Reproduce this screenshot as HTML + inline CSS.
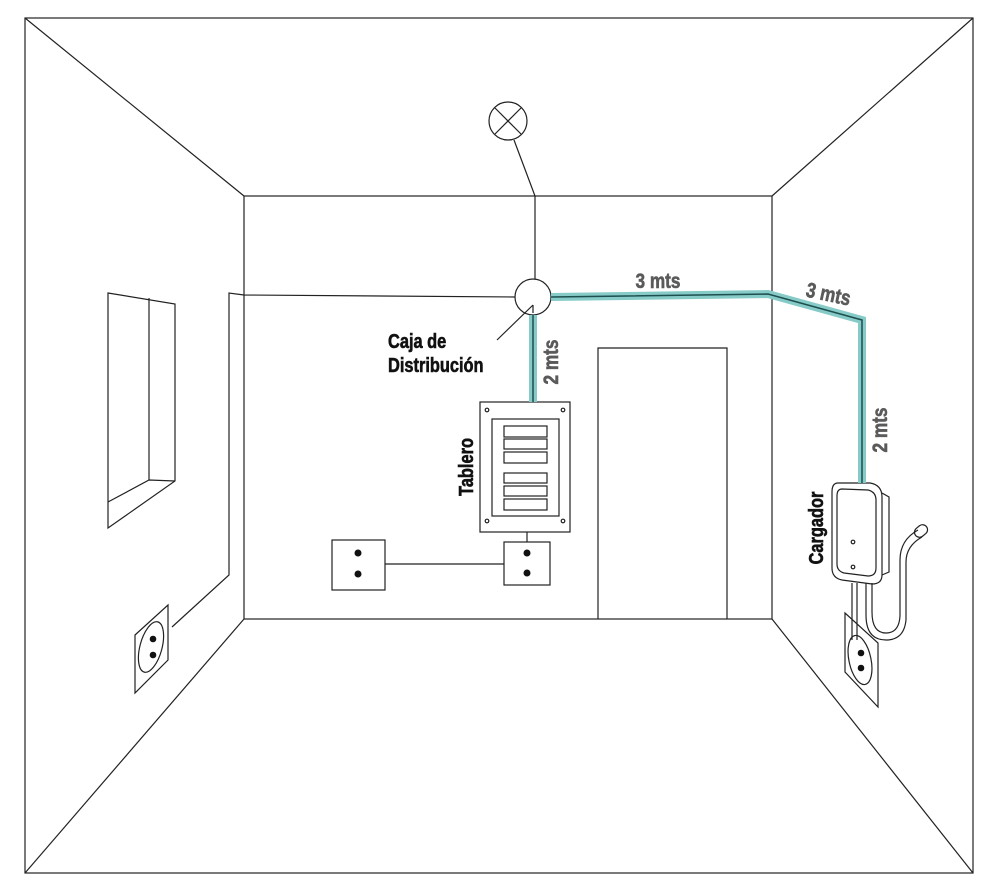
<!DOCTYPE html>
<html><head><meta charset="utf-8"><style>
html,body{margin:0;padding:0;background:#fff}
svg{display:block}
text{font-family:"Liberation Sans",sans-serif;font-weight:bold}
</style></head><body>
<svg width="1000" height="889" viewBox="0 0 1000 889" xmlns="http://www.w3.org/2000/svg">
<g fill="none" stroke="#222" stroke-width="1.2">
<rect x="25" y="18" width="948" height="855"/>
<rect x="244" y="196" width="528" height="423"/>
<line x1="25" y1="18" x2="244" y2="196"/>
<line x1="973" y1="18" x2="772" y2="196"/>
<line x1="25" y1="873" x2="244" y2="619"/>
<line x1="973" y1="873" x2="772" y2="619"/>
<!-- lamp -->
<ellipse cx="508" cy="121" rx="19" ry="19"/>
<line x1="495" y1="108" x2="521" y2="134"/>
<line x1="521" y1="108" x2="495" y2="134"/>
<polyline points="514,140 535,196 535,279"/>
<!-- dist box -->
<circle cx="533" cy="297" r="18"/>
<line x1="497" y1="340" x2="533" y2="305"/>
<line x1="533" y1="305" x2="533" y2="313"/>
<!-- wire left -->
<polyline points="515,297 244,295 229,293 229,575 172,627"/>
<!-- window -->
<polygon points="108,293 175,304 175,481 108,528"/>
<line x1="149" y1="298" x2="149" y2="480"/>
<polyline points="108,502 149,480 175,481"/>
<!-- left socket -->
<polygon points="135,635 168,605 168,660 135,693"/>
<ellipse cx="151" cy="647" rx="11" ry="26" transform="rotate(15 151 647)"/>
<!-- door -->
<polyline points="598,619 598,348 727,348 727,619"/>
<!-- tablero -->
<rect x="480" y="402" width="90" height="130"/>
<rect x="492" y="419" width="67" height="97"/>
<rect x="504" y="426" width="43" height="11"/>
<rect x="504" y="439" width="43" height="10"/>
<rect x="504" y="452" width="43" height="11"/>
<rect x="504" y="473" width="43" height="10"/>
<rect x="504" y="486" width="43" height="10"/>
<rect x="504" y="499" width="43" height="11"/>
<circle cx="487" cy="410" r="1.8"/><circle cx="563" cy="410" r="1.8"/>
<circle cx="487" cy="521" r="1.8"/><circle cx="563" cy="521" r="1.8"/>
<line x1="527" y1="532" x2="527" y2="542"/>
<rect x="504" y="542" width="46" height="43"/>
<rect x="332" y="540" width="53" height="50"/>
<line x1="385" y1="564" x2="504" y2="564"/>
<!-- right socket -->
<polygon points="845,613 878,643 878,707 845,672"/>
<ellipse cx="860" cy="660" rx="11" ry="25" transform="rotate(-12 860 660)"/>
<!-- charger -->
<path d="M852,583 L852,640 M857,583 L857,640"/>
<path d="M866,583 L866,615 Q866,640 886,640 Q904,640 906,620 L906,570 M872,583 L872,612 Q872,633 886,633 Q899,633 900,616 L900,570"/>
<path d="M882,493 L889,497 L889,572 L882,575"/>
<path d="M838,483 L870,483 Q882,485 882,497 L882,575 Q882,584 872,584 L842,580 Q832,578 832,568 L832,492 Q832,483 838,483 Z"/>
<path d="M842,489 L868,490 Q876,492 876,500 L876,568 Q876,576 868,576 L844,573 Q837,571 837,564 L837,496 Q837,489 842,489 Z"/>
<path d="M900,570 L900,560 Q900,540 918,530 M906,570 L906,562 Q906,546 922,537"/>
<rect x="914" y="526" width="14" height="10" rx="5" transform="rotate(-40 921 531)"/>
<circle cx="853" cy="542" r="1.8"/><circle cx="853" cy="567" r="1.8"/>
</g>
<g fill="#111">
<circle cx="153" cy="639" r="3.3"/><circle cx="153" cy="655" r="3.3"/>
<circle cx="527" cy="553" r="3.5"/><circle cx="527" cy="573" r="3.5"/>
<circle cx="358" cy="553" r="3.5"/><circle cx="358" cy="574" r="3.5"/>
<circle cx="861" cy="653" r="3.3"/><circle cx="861" cy="668" r="3.3"/>
</g>
<!-- teal cables -->
<g fill="none" stroke-linejoin="miter">
<polyline points="533,315 533,402" stroke="#86cbc7" stroke-width="8"/>
<polyline points="551,297 768,294 862,320 862,483" stroke="#86cbc7" stroke-width="8"/>
<polyline points="533,315 533,402" stroke="#1d4f4f" stroke-width="1.5"/>
<polyline points="551,297 768,294 862,320 862,483" stroke="#1d4f4f" stroke-width="1.5"/>
</g>
<!-- labels -->
<g font-size="20" fill="#111" stroke="#111" stroke-width="0.6">
<text transform="translate(388 348) scale(0.82 1)">Caja de</text>
<text transform="translate(388 372) scale(0.82 1)">Distribución</text>
<text transform="translate(473 467) rotate(-90) scale(0.82 1)" text-anchor="middle">Tablero</text>
<text transform="translate(823 528) rotate(-90) scale(0.82 1)" text-anchor="middle">Cargador</text>
</g>
<g font-size="21" fill="#5a5a5a" stroke="#5a5a5a" stroke-width="0.6">
<text transform="translate(658 288) scale(0.82 1)" text-anchor="middle">3 mts</text>
<text transform="translate(827 301) rotate(12) scale(0.82 1)" text-anchor="middle">3 mts</text>
<text transform="translate(558 362) rotate(-90) scale(0.82 1)" text-anchor="middle">2 mts</text>
<text transform="translate(887 430) rotate(-90) scale(0.82 1)" text-anchor="middle">2 mts</text>
</g>
</svg>
</body></html>
